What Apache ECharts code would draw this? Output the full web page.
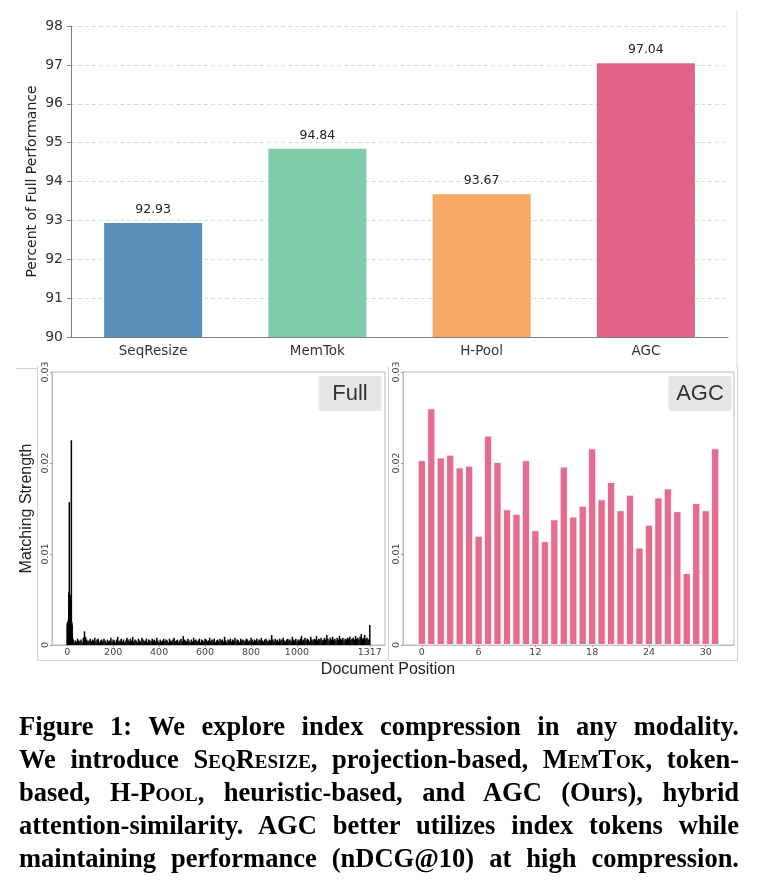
<!DOCTYPE html>
<html>
<head>
<meta charset="utf-8">
<script src="https://cdn.jsdelivr.net/npm/echarts@6/dist/echarts.min.js"></script>
<style>
  html, body { margin: 0; padding: 0; background: #fff; }
  #main { width: 758px; height: 882px; }
  #caption {
    position: absolute; left: 19px; top: 710px; width: 720px;
    font-family: 'Liberation Serif', serif; font-weight: bold; font-size: 26.5px; color: #000;
  }
  #caption div { height: 33px; line-height: 33px; text-align: justify; text-align-last: justify; white-space: nowrap; }
  .sc { font-variant: small-caps; }
</style>
</head>
<body>
<div id="main"></div>
<div id="caption">
  <div>Figure 1: We explore index compression in any modality.</div>
  <div>We introduce <span class="sc">SeqResize</span>, projection-based, <span class="sc">MemTok</span>, token-</div>
  <div>based, H-<span class="sc">Pool</span>, heuristic-based, and AGC (Ours), hybrid</div>
  <div>attention-similarity. AGC better utilizes index tokens while</div>
  <div>maintaining performance (nDCG@10) at high compression.</div>
</div>
<script>
// top panel: percent of full performance
var methods = ['SeqResize', 'MemTok', 'H-Pool', 'AGC'];
var scores = [92.93, 94.84, 93.67, 97.04];
var methodColors = ['#5b8fbb', '#7fcaa9', '#f5a962', '#e26388'];

// bottom-left: matching strength over document positions (Full)
// positions 0..24 one by one
var fullHead = [0.0024, 0.0021, 0.0026, 0.0023, 0.0025, 0.0020, 0.0030, 0.0058, 0.0035, 0.0157,
  0.0040, 0.0028, 0.0047, 0.0032, 0.0025, 0.0055, 0.0038, 0.0030, 0.0225, 0.0026,
  0.0024, 0.0022, 0.0012, 0.0008, 0.0006];
// positions 25..1315, every 5th token
var fullNoiseStart = 25, fullNoiseStep = 5;
var fullNoise = [
  0.0006, 0.0003, 0.0005, 0.0004, 0.0007, 0.0005, 0.0004, 0.0006, 0.0003, 0.0008, 0.0015, 0.0009, 0.0006, 0.0004, 0.0005, 0.0007, 0.0004, 0.0006,
  0.0005, 0.0008, 0.0004, 0.0006, 0.0007, 0.0003, 0.0005, 0.0006, 0.0004, 0.0007, 0.0005, 0.0003, 0.0006, 0.0004, 0.0005, 0.0008, 0.0004, 0.0006, 0.0005, 0.0003,
  0.0006, 0.0009, 0.0004, 0.0005, 0.0007, 0.0004, 0.0006, 0.0003, 0.0005, 0.0008, 0.0006, 0.0004, 0.0007, 0.0005, 0.0009, 0.0004, 0.0006, 0.0005, 0.0003, 0.0007,
  0.0005, 0.0004, 0.0008, 0.0006, 0.0004, 0.0005, 0.0007, 0.0003, 0.0006, 0.0005, 0.0004, 0.0007, 0.0005, 0.0006, 0.0004, 0.0008, 0.0005, 0.0003, 0.0006, 0.0004,
  0.0005, 0.0007, 0.0004, 0.0006, 0.0005, 0.0003, 0.0007, 0.0005, 0.0004, 0.0006, 0.0008, 0.0004, 0.0005, 0.0006, 0.0003, 0.0005, 0.0007, 0.0004, 0.0010, 0.0006,
  0.0005, 0.0004, 0.0007, 0.0005, 0.0003, 0.0006, 0.0004, 0.0008, 0.0005, 0.0006, 0.0004, 0.0005, 0.0007, 0.0003, 0.0006, 0.0005, 0.0004, 0.0007, 0.0006, 0.0004,
  0.0005, 0.0008, 0.0004, 0.0006, 0.0005, 0.0007, 0.0003, 0.0005, 0.0006, 0.0004, 0.0007, 0.0005, 0.0006, 0.0004, 0.0009, 0.0005, 0.0003, 0.0006, 0.0005, 0.0007,
  0.0004, 0.0006, 0.0005, 0.0008, 0.0004, 0.0006, 0.0005, 0.0003, 0.0007, 0.0005, 0.0006, 0.0004, 0.0005, 0.0007, 0.0006, 0.0004, 0.0005, 0.0008, 0.0006, 0.0004,
  0.0006, 0.0005, 0.0007, 0.0004, 0.0006, 0.0005, 0.0008, 0.0005, 0.0004, 0.0006, 0.0007, 0.0005, 0.0004, 0.0006, 0.0005, 0.0011, 0.0006, 0.0004, 0.0007, 0.0005,
  0.0006, 0.0004, 0.0007, 0.0005, 0.0006, 0.0008, 0.0005, 0.0004, 0.0006, 0.0007, 0.0005, 0.0006, 0.0004, 0.0009, 0.0006, 0.0005, 0.0007, 0.0004, 0.0006, 0.0005,
  0.0007, 0.0010, 0.0005, 0.0006, 0.0008, 0.0005, 0.0007, 0.0006, 0.0004, 0.0009, 0.0006, 0.0005, 0.0007, 0.0006, 0.0010, 0.0005, 0.0007, 0.0006, 0.0008, 0.0005,
  0.0006, 0.0008, 0.0006, 0.0011, 0.0007, 0.0005, 0.0008, 0.0006, 0.0009, 0.0006, 0.0007, 0.0005, 0.0008, 0.0006, 0.0010, 0.0007, 0.0006, 0.0008, 0.0005, 0.0007,
  0.0006, 0.0008, 0.0007, 0.0009, 0.0006, 0.0007, 0.0008, 0.0006, 0.0010, 0.0007, 0.0008, 0.0006, 0.0009, 0.0012, 0.0007, 0.0008, 0.0011, 0.0007, 0.0008, 0.0006,
  0.0007
];
var fullLastPos = 1317, fullLast = 0.0022;
var fullTicks = [0, 200, 400, 600, 800, 1000, 1317];

// bottom-right: AGC index tokens
var agcValues = [0.0203, 0.0260, 0.0206, 0.0209, 0.0195, 0.0197, 0.0120, 0.0230, 0.0201, 0.0149,
  0.0144, 0.0203, 0.0126, 0.0114, 0.0138, 0.0196, 0.0141, 0.0153, 0.0216, 0.0160,
  0.0179, 0.0148, 0.0165, 0.0107, 0.0132, 0.0162, 0.0172, 0.0147, 0.0079, 0.0156,
  0.0148, 0.0216];
var agcTicks = [0, 6, 12, 18, 24, 30];

var fullData = [];
fullHead.forEach(function (v, i) { fullData.push([i, v]); });
fullNoise.forEach(function (v, i) { fullData.push([fullNoiseStart + i * fullNoiseStep, v]); });
fullData.push([fullLastPos, fullLast]);
var agcData = agcValues.map(function (v, i) { return [i, v]; });

var chart = echarts.init(document.getElementById('main'));

var smallLabel = { fontFamily: 'DejaVu Sans', fontSize: 9.5, color: '#444' };
function panelY(idx, withName) {
  return {
    type: 'value', gridIndex: idx, min: 0, max: 0.03, interval: 0.01,
    name: withName ? 'Matching Strength' : '', nameLocation: 'middle', nameGap: 17,
    nameTextStyle: { fontFamily: 'Liberation Sans', fontSize: 16, color: '#222' },
    axisLine: { show: true, onZero: false, lineStyle: { color: '#bbb' } },
    axisTick: { show: true, length: 2, lineStyle: { color: '#999' } },
    axisLabel: Object.assign({ rotate: 90, margin: 1 }, smallLabel),
    splitLine: { show: false }
  };
}
function panelX(idx, min, max, ticks) {
  return {
    type: 'value', gridIndex: idx, min: min, max: max,
    axisLine: { show: true, onZero: false, lineStyle: { color: '#bbb' } },
    axisTick: { show: true, length: 2, customValues: ticks, lineStyle: { color: '#999' } },
    axisLabel: Object.assign({ customValues: ticks, margin: 3, formatter: function (v) { return String(v); } }, smallLabel),
    splitLine: { show: false }
  };
}
function tag(text, cx) {
  return {
    type: 'group', left: cx - 31, top: 376, children: [
      { type: 'rect', shape: { x: 0, y: 0, width: 63, height: 35, r: 2 }, style: { fill: '#e6e6e6' } },
      { type: 'text', x: 31.5, y: 18, style: { text: text, fontFamily: 'Liberation Sans', fontSize: 22, fill: '#333', align: 'center', verticalAlign: 'middle' } }
    ]
  };
}
function frame(points) {
  return { type: 'polyline', shape: { points: points }, style: { stroke: '#d4d4d4', lineWidth: 1, fill: null }, silent: true };
}

var option = {
  animation: false,
  grid: [
    { left: 71, top: 26, width: 657, height: 311 },
    { left: 52, top: 372, width: 333, height: 273, show: true, borderColor: '#bbb', borderWidth: 1 },
    { left: 403, top: 372, width: 331, height: 273, show: true, borderColor: '#bbb', borderWidth: 1 }
  ],
  xAxis: [
    {
      type: 'category', gridIndex: 0, data: methods,
      axisLine: { lineStyle: { color: '#808080' } },
      axisTick: { alignWithLabel: true, length: 4, lineStyle: { color: '#808080' } },
      axisLabel: { fontFamily: 'DejaVu Sans', fontSize: 13.5, color: '#333', margin: 7 }
    },
    panelX(1, -66.3, 1383.3, fullTicks),
    panelX(2, -1.99, 32.99, agcTicks)
  ],
  yAxis: [
    {
      type: 'value', gridIndex: 0, min: 90, max: 98, interval: 1,
      name: 'Percent of Full Performance', nameLocation: 'middle', nameGap: 32, nameMoveOverlap: false,
      nameTextStyle: { fontFamily: 'DejaVu Sans', fontSize: 14, color: '#222' },
      axisLine: { show: true, lineStyle: { color: '#808080' } },
      axisTick: { show: true, length: 4, lineStyle: { color: '#808080' } },
      axisLabel: { fontFamily: 'DejaVu Sans', fontSize: 14, color: '#333', margin: 8 },
      splitLine: { show: true, lineStyle: { color: '#dcdcdc', type: [4, 3] } }
    },
    panelY(1, true),
    panelY(2, false)
  ],
  series: [
    {
      type: 'bar', xAxisIndex: 0, yAxisIndex: 0, barWidth: 98,
      data: scores.map(function (v, i) { return { value: v, itemStyle: { color: methodColors[i] } }; }),
      label: { show: true, position: 'top', distance: 7, fontFamily: 'DejaVu Sans', fontSize: 12.5, color: '#222',
        formatter: function (p) { return p.value.toFixed(2); } }
    },
    {
      type: 'bar', xAxisIndex: 1, yAxisIndex: 1, barWidth: 1.5, barGap: '-100%',
      itemStyle: { color: '#000' }, data: fullData
    },
    {
      type: 'bar', xAxisIndex: 2, yAxisIndex: 2, barWidth: 8,
      itemStyle: { color: '#e56b8f', borderColor: '#fff', borderWidth: 0.8 }, data: agcData
    }
  ],
  graphic: [
    { type: 'line', shape: { x1: 737, y1: 10, x2: 737, y2: 368 }, style: { stroke: '#dedede', lineWidth: 1 }, silent: true },
    { type: 'line', shape: { x1: 16, y1: 368.5, x2: 38, y2: 368.5 }, style: { stroke: '#d4d4d4', lineWidth: 1 }, silent: true },
    frame([[37.5, 366], [37.5, 660.5], [388.5, 660.5], [388.5, 366]]),
    frame([[388.5, 660.5], [737.5, 660.5], [737.5, 366]]),
    tag('Full', 349.5),
    tag('AGC', 699.5),
    { type: 'text', x: 388, y: 670, style: { text: 'Document Position', fontFamily: 'Liberation Sans', fontSize: 16, fill: '#222', align: 'center', verticalAlign: 'middle' } }
  ]
};

chart.setOption(option);
</script>
</body>
</html>
